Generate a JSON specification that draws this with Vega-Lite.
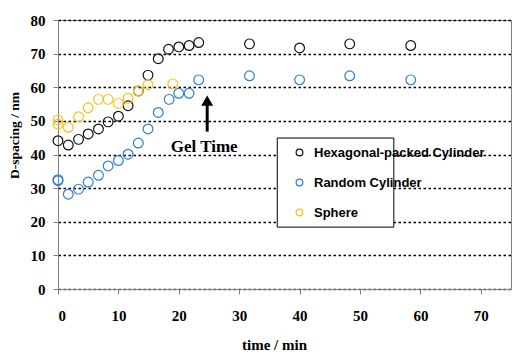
{
  "$schema": "https://vega.github.io/schema/vega-lite/v6.json",
  "width": 453,
  "height": 269,
  "autosize": {"type": "none"},
  "padding": {"left": 58, "top": 20, "right": 2, "bottom": 65},
  "config": {
    "view": {"stroke": "#808080", "strokeWidth": 1},
    "axis": {
      "labelFont": "Liberation Serif",
      "labelFontWeight": "bold",
      "labelFontSize": 15,
      "labelColor": "black",
      "titleFont": "Liberation Serif",
      "titleFontWeight": "bold",
      "titleFontSize": 15,
      "titleColor": "black",
      "domainColor": "#808080",
      "tickColor": "#808080",
      "tickSize": 5,
      "labelOverlap": false
    }
  },
  "encoding": {
    "x": {
      "field": "t", "type": "quantitative",
      "scale": {"domain": [0, 75], "nice": false},
      "axis": {"values": [0, 10, 20, 30, 40, 50, 60, 70], "grid": false, "labelPadding": 14, "titlePadding": 14, "titleX": 216},
      "title": "time / min"
    },
    "y": {
      "field": "d", "type": "quantitative",
      "scale": {"domain": [0, 80], "nice": false},
      "axis": {"values": [0, 10, 20, 30, 40, 50, 60, 70, 80], "grid": true, "gridColor": "black", "gridDash": [2.5, 2.5], "gridWidth": 1.6, "labelPadding": 8, "titlePadding": 9, "titleFontSize": 13.5, "titleY": 115},
      "title": "D-spacing / nm"
    }
  },
  "layer": [
    {
      "data": {"values": [{"t": 36.3, "t2": 55.6, "d": 18.4, "d2": 44.9}]},
      "mark": {"type": "rect", "fill": "white", "stroke": "black", "strokeWidth": 1},
      "encoding": {
        "x2": {"field": "t2"},
        "y2": {"field": "d2"}
      }
    },
    {
      "data": {"values": [
        {"series": "Hexagonal-packed Cylinder", "t": 0, "d": 44.1},
        {"series": "Hexagonal-packed Cylinder", "t": 1.7, "d": 42.8},
        {"series": "Hexagonal-packed Cylinder", "t": 3.4, "d": 44.5},
        {"series": "Hexagonal-packed Cylinder", "t": 5.0, "d": 46.1},
        {"series": "Hexagonal-packed Cylinder", "t": 6.7, "d": 47.6},
        {"series": "Hexagonal-packed Cylinder", "t": 8.3, "d": 49.7},
        {"series": "Hexagonal-packed Cylinder", "t": 10.0, "d": 51.4},
        {"series": "Hexagonal-packed Cylinder", "t": 11.6, "d": 54.5},
        {"series": "Hexagonal-packed Cylinder", "t": 13.3, "d": 58.9},
        {"series": "Hexagonal-packed Cylinder", "t": 14.9, "d": 63.6},
        {"series": "Hexagonal-packed Cylinder", "t": 16.6, "d": 68.5},
        {"series": "Hexagonal-packed Cylinder", "t": 18.3, "d": 71.3},
        {"series": "Hexagonal-packed Cylinder", "t": 20.0, "d": 72.0},
        {"series": "Hexagonal-packed Cylinder", "t": 21.7, "d": 72.4},
        {"series": "Hexagonal-packed Cylinder", "t": 23.3, "d": 73.3},
        {"series": "Hexagonal-packed Cylinder", "t": 31.7, "d": 72.9},
        {"series": "Hexagonal-packed Cylinder", "t": 40.0, "d": 71.7},
        {"series": "Hexagonal-packed Cylinder", "t": 48.3, "d": 72.9},
        {"series": "Hexagonal-packed Cylinder", "t": 58.4, "d": 72.4},
        {"series": "Random Cylinder", "t": 0, "d": 32.2},
        {"series": "Random Cylinder", "t": 0, "d": 32.5},
        {"series": "Random Cylinder", "t": 1.7, "d": 28.2},
        {"series": "Random Cylinder", "t": 3.4, "d": 29.7},
        {"series": "Random Cylinder", "t": 5.0, "d": 31.8},
        {"series": "Random Cylinder", "t": 6.7, "d": 33.8},
        {"series": "Random Cylinder", "t": 8.3, "d": 36.6},
        {"series": "Random Cylinder", "t": 10.0, "d": 38.2},
        {"series": "Random Cylinder", "t": 11.6, "d": 40.1},
        {"series": "Random Cylinder", "t": 13.3, "d": 43.4},
        {"series": "Random Cylinder", "t": 14.9, "d": 47.6},
        {"series": "Random Cylinder", "t": 16.6, "d": 52.5},
        {"series": "Random Cylinder", "t": 18.4, "d": 56.4},
        {"series": "Random Cylinder", "t": 20.0, "d": 58.2},
        {"series": "Random Cylinder", "t": 21.7, "d": 58.2},
        {"series": "Random Cylinder", "t": 23.3, "d": 62.2},
        {"series": "Random Cylinder", "t": 31.7, "d": 63.4},
        {"series": "Random Cylinder", "t": 40.0, "d": 62.2},
        {"series": "Random Cylinder", "t": 48.3, "d": 63.4},
        {"series": "Random Cylinder", "t": 58.4, "d": 62.2},
        {"series": "Sphere", "t": 0, "d": 50.3},
        {"series": "Sphere", "t": 0, "d": 49.0},
        {"series": "Sphere", "t": 1.7, "d": 48.1},
        {"series": "Sphere", "t": 3.4, "d": 51.2},
        {"series": "Sphere", "t": 5.0, "d": 53.9},
        {"series": "Sphere", "t": 6.7, "d": 56.4},
        {"series": "Sphere", "t": 8.3, "d": 56.4},
        {"series": "Sphere", "t": 10.0, "d": 55.2},
        {"series": "Sphere", "t": 11.6, "d": 56.7},
        {"series": "Sphere", "t": 13.3, "d": 58.9},
        {"series": "Sphere", "t": 14.9, "d": 60.8},
        {"series": "Sphere", "t": 19.0, "d": 61.0}
      ]},
      "mark": {"type": "point", "shape": "circle", "filled": false, "size": 95, "strokeWidth": 1.2, "opacity": 1},
      "encoding": {
        "color": {
          "field": "series", "type": "nominal",
          "scale": {"domain": ["Hexagonal-packed Cylinder", "Random Cylinder", "Sphere"], "range": ["#111111", "#2e7fd6", "#f7c21a"]},
          "legend": {
            "title": null,
            "orient": "none",
            "legendX": 222,
            "legendY": 126,
            "labelFont": "Liberation Sans",
            "labelFontWeight": "bold",
            "labelFontSize": 13,
            "labelColor": "black",
            "labelLimit": 300,
            "symbolSize": 45,
            "symbolStrokeWidth": 1.2,
            "symbolOffset": 13,
            "labelOffset": 8,
            "rowPadding": 16
          }
        }
      }
    },
    {
      "data": {"values": [{"t": 24.7, "d": 46.8, "d2": 55.0}]},
      "mark": {"type": "rule", "color": "black", "strokeWidth": 3},
      "encoding": {
        "y2": {"field": "d2"}
      }
    },
    {
      "data": {"values": [{"t": 24.7, "d": 56.0}]},
      "mark": {"type": "point", "shape": "triangle-up", "filled": true, "color": "black", "size": 140, "opacity": 1},
      "encoding": {}
    },
    {
      "data": {"values": [{"t": 24.2, "d": 40.8, "label": "Gel Time"}]},
      "mark": {"type": "text", "font": "Liberation Serif", "fontWeight": "bold", "fontSize": 17, "color": "black", "baseline": "alphabetic", "align": "center"},
      "encoding": {
        "text": {"field": "label"}
      }
    }
  ]
}
